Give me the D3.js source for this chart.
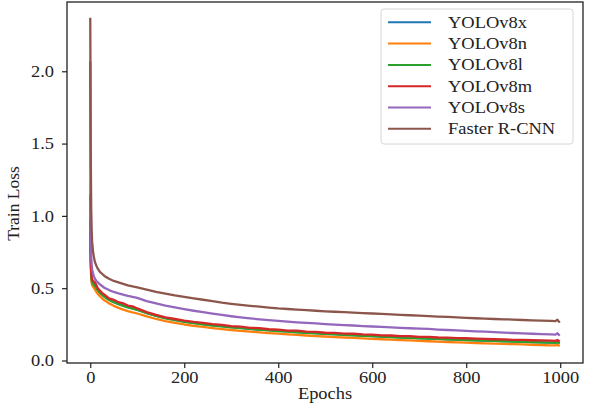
<!DOCTYPE html>
<html>
<head>
<meta charset="utf-8">
<script src="https://cdn.jsdelivr.net/npm/d3@7"></script>
<style>
  html, body { margin: 0; padding: 0; background: #fff; }
  svg { display: block; }
  text { font-family: "Liberation Serif", "Times New Roman", serif; fill: #222; }
</style>
</head>
<body>
<svg id="chart" width="590" height="403"></svg>
<script>
const epochs = [0,1,2,3,4,6,8,10,13,16,20,25,30,40,50,60,70,80,90,100,
  120,140,160,180,200,220,240,260,280,300,320,340,360,380,400,420,440,460,480,500,
  520,540,560,580,600,620,640,660,680,700,720,740,760,780,800,820,840,860,880,900,
  920,940,960,980,990,994,999];

const seriesNames = ["YOLOv8x","YOLOv8n","YOLOv8l","YOLOv8m","YOLOv8s","Faster R-CNN"];
const seriesColors = ["#1f77b4","#ff7f0e","#2ca02c","#d62728","#9467bd","#8c564b"];

const yolov8x = [2.07,0.75,0.60,0.56,0.545,0.533,0.525,0.517,0.502,0.488,0.473,0.457,0.443,0.42,0.405,0.392,0.38,0.37,0.36,0.352,
  0.33,0.311,0.295,0.282,0.27,0.26,0.252,0.244,0.237,0.231,0.225,0.219,0.214,0.21,0.205,0.201,0.197,0.193,0.189,0.185,
  0.182,0.178,0.175,0.172,0.169,0.166,0.163,0.16,0.158,0.155,0.152,0.15,0.147,0.145,0.142,0.14,0.138,0.136,0.134,0.132,
  0.13,0.128,0.126,0.124,0.123,0.128,0.12];
const yolov8n = [1.25,0.68,0.57,0.535,0.52,0.51,0.50,0.49,0.475,0.46,0.447,0.43,0.416,0.395,0.378,0.364,0.352,0.342,0.333,0.325,
  0.305,0.287,0.272,0.26,0.249,0.24,0.232,0.224,0.217,0.211,0.205,0.2,0.195,0.19,0.186,0.181,0.177,0.173,0.169,0.166,
  0.162,0.159,0.156,0.153,0.15,0.147,0.144,0.141,0.139,0.136,0.133,0.131,0.128,0.126,0.124,0.121,0.119,0.117,0.115,0.113,
  0.111,0.109,0.107,0.105,0.104,0.108,0.1];
const yolov8l = [1.15,0.70,0.59,0.555,0.54,0.53,0.522,0.515,0.50,0.485,0.47,0.455,0.44,0.418,0.403,0.39,0.378,0.368,0.359,0.35,
  0.328,0.308,0.292,0.279,0.268,0.258,0.25,0.242,0.236,0.229,0.224,0.218,0.213,0.208,0.204,0.199,0.195,0.191,0.188,0.184,
  0.18,0.177,0.174,0.171,0.168,0.165,0.162,0.159,0.157,0.154,0.151,0.149,0.146,0.144,0.141,0.139,0.137,0.135,0.133,0.131,
  0.129,0.127,0.125,0.123,0.122,0.126,0.119];
const yolov8m = [0.98,0.72,0.61,0.575,0.56,0.55,0.545,0.54,0.52,0.50,0.485,0.468,0.455,0.43,0.42,0.403,0.395,0.38,0.375,0.36,
  0.335,0.315,0.298,0.287,0.276,0.267,0.26,0.251,0.246,0.237,0.234,0.226,0.224,0.216,0.214,0.207,0.206,0.199,0.198,0.192,
  0.191,0.186,0.185,0.18,0.179,0.174,0.173,0.169,0.168,0.164,0.163,0.159,0.158,0.155,0.154,0.151,0.149,0.147,0.146,0.143,
  0.142,0.14,0.139,0.137,0.136,0.142,0.13];
const yolov8s = [1.10,0.84,0.72,0.66,0.63,0.60,0.58,0.565,0.55,0.54,0.528,0.515,0.503,0.487,0.474,0.464,0.455,0.447,0.44,0.433,
  0.41,0.395,0.38,0.367,0.355,0.344,0.334,0.324,0.315,0.306,0.298,0.291,0.285,0.279,0.274,0.269,0.264,0.26,0.256,0.252,
  0.248,0.245,0.242,0.238,0.235,0.232,0.229,0.226,0.223,0.22,0.218,0.214,0.211,0.208,0.205,0.202,0.199,0.196,0.193,0.19,
  0.188,0.185,0.183,0.18,0.179,0.188,0.172];
const fasterRcnn = [2.37,1.45,1.05,0.90,0.82,0.75,0.71,0.68,0.655,0.635,0.615,0.60,0.585,0.565,0.55,0.54,0.53,0.52,0.512,0.505,
  0.49,0.475,0.462,0.45,0.44,0.43,0.42,0.41,0.40,0.392,0.385,0.378,0.372,0.366,0.36,0.356,0.352,0.348,0.344,0.34,
  0.337,0.334,0.331,0.328,0.325,0.322,0.319,0.316,0.313,0.31,0.307,0.304,0.301,0.298,0.295,0.292,0.29,0.287,0.285,0.283,
  0.28,0.278,0.276,0.274,0.272,0.282,0.262];

const xTicks = [0,200,400,600,800,1000];
const yTicks = [0.0,0.5,1.0,1.5,2.0];
const xLabel = "Epochs";
const yLabel = "Train Loss";

const allSeries = [yolov8x, yolov8n, yolov8l, yolov8m, yolov8s, fasterRcnn];

const svg = d3.select("#chart");
const pL = 67, pR = 583, pT = 2, pB = 363;

const x = d3.scaleLinear().domain([-49.5, 1048.5]).range([pL, pR]);
const y = d3.scaleLinear().domain([-0.0173, 2.479]).range([pB, pT]);

// lines
const line = d3.line().x((d, i) => x(epochs[i])).y(d => y(d));
const g = svg.append("g");
allSeries.forEach((s, k) => {
  g.append("path")
    .attr("d", line(s))
    .attr("fill", "none")
    .attr("stroke", seriesColors[k])
    .attr("stroke-width", 2.3)
    .attr("stroke-linejoin", "round");
});

// frame
svg.append("rect")
  .attr("x", pL).attr("y", pT)
  .attr("width", pR - pL).attr("height", pB - pT)
  .attr("fill", "none").attr("stroke", "#222").attr("stroke-width", 1.3);

// axes
const xAxis = svg.append("g").attr("transform", `translate(0,${pB})`)
  .call(d3.axisBottom(x).tickValues(xTicks).tickFormat(d3.format("d")).tickSize(5).tickPadding(4));
const yAxis = svg.append("g").attr("transform", `translate(${pL},0)`)
  .call(d3.axisLeft(y).tickValues(yTicks).tickFormat(d3.format(".1f")).tickSize(5).tickPadding(8));
[xAxis, yAxis].forEach(a => {
  a.select(".domain").remove();
  a.selectAll(".tick line").attr("stroke", "#222").attr("stroke-width", 1.2);
  a.selectAll(".tick text").attr("font-family", "Liberation Serif").attr("font-size", 16).attr("fill", "#222");
});
xAxis.selectAll(".tick text").attr("transform", "scale(1.15,1)");
yAxis.selectAll(".tick text").attr("transform", "scale(1.15,1)").attr("x", -13/1.15);

// axis labels
svg.append("text")
  .attr("transform", `translate(${(pL + pR) / 2},399) scale(1.15,1)`)
  .attr("text-anchor", "middle").attr("font-size", 16).text(xLabel);
svg.append("text")
  .attr("transform", `translate(19,${(pT + pB) / 2 + 21}) rotate(-90)`)
  .attr("text-anchor", "middle").attr("font-size", 17.5).text(yLabel);

// legend
const lg = svg.append("g");
lg.append("rect")
  .attr("x", 381).attr("y", 9).attr("width", 192).attr("height", 135)
  .attr("rx", 3).attr("fill", "#fff").attr("fill-opacity", 0.9)
  .attr("stroke", "#d6d6d6").attr("stroke-width", 1);
seriesNames.forEach((name, i) => {
  const yy = 22.3 + i * 21.3;
  lg.append("line")
    .attr("x1", 388).attr("x2", 431).attr("y1", yy).attr("y2", yy)
    .attr("stroke", seriesColors[i]).attr("stroke-width", 2);
  lg.append("text")
    .attr("transform", `translate(448,${yy + 5.5}) scale(1.12,1)`)
    .attr("font-size", 16.5).text(name);
});
</script>
</body>
</html>
